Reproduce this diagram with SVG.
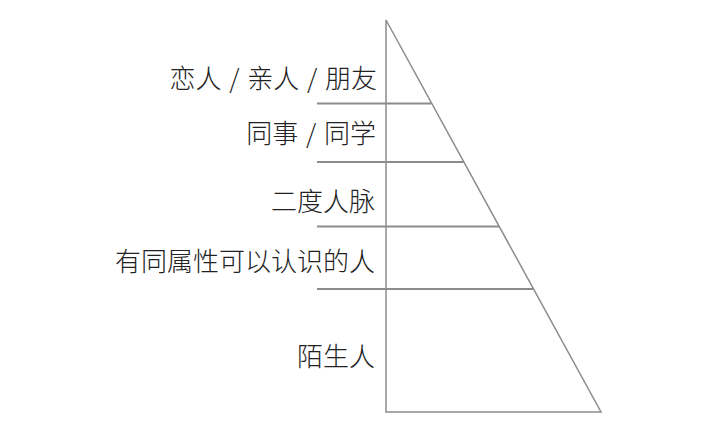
<svg xmlns="http://www.w3.org/2000/svg" width="720" height="429" viewBox="0 0 720 429">
<style>
.lbl{font-family:"Noto Sans CJK SC","Noto Sans",sans-serif;font-size:26px;font-weight:300;fill:#222;text-anchor:end}
.sp{word-spacing:2px}
.edge{stroke:#8c8c8c;stroke-width:1.5;fill:none}
.tier{stroke:#8c8c8c;stroke-width:2;fill:none}
</style>
<rect width="720" height="429" fill="#fff"/>
<g id="pyramid">
<polygon class="edge" points="386,20 386,412 601,412"/>
</g>
<g id="connectors">
<line class="tier" x1="317" y1="103.5" x2="431.6" y2="103.5"/>
<line class="tier" x1="317" y1="162" x2="463.7" y2="162"/>
<line class="tier" x1="317" y1="226.5" x2="499" y2="226.5"/>
<line class="tier" x1="317" y1="289" x2="533.5" y2="289"/>
</g>
<g id="n1"><text class="lbl sp" x="377" y="88">恋人 / 亲人 / 朋友</text></g>
<g id="n2"><text class="lbl sp" x="376" y="143">同事 / 同学</text></g>
<g id="n3"><text class="lbl" x="375" y="211">二度人脉</text></g>
<g id="n4"><text class="lbl" x="375" y="271">有同属性可以认识的人</text></g>
<g id="n5"><text class="lbl" x="375" y="366">陌生人</text></g>
</svg>
